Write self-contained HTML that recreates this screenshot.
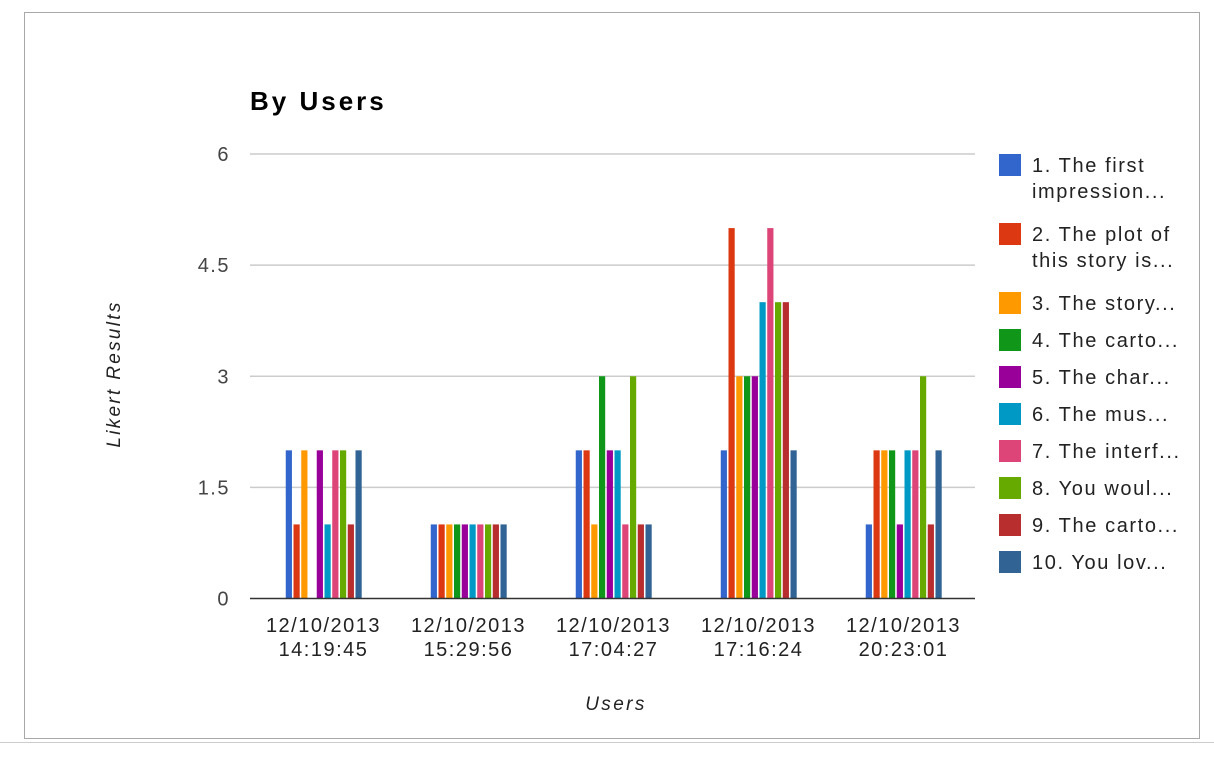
<!DOCTYPE html>
<html><head><meta charset="utf-8"><style>
body{margin:0;background:#fff;font-family:"Liberation Sans",Arial,sans-serif;}
svg text{font-family:"Liberation Sans",Arial,sans-serif;}
</style></head><body>
<svg id="chart" width="1214" height="754" xmlns="http://www.w3.org/2000/svg">
<rect x="0" y="0" width="1214" height="754" fill="#fff"/>
<rect x="24.5" y="12.5" width="1175" height="726" fill="#fff" stroke="#a8a8a8"/>
<line x1="0" y1="742.5" x2="1214" y2="742.5" stroke="#ccc"/>
<text x="250" y="110" font-size="26" font-weight="bold" letter-spacing="3" fill="#000">By Users</text>
<text transform="translate(120,374) rotate(-90)" text-anchor="middle" font-size="19" letter-spacing="2.3" font-style="italic" fill="#222">Likert Results</text>
<text x="616" y="710" text-anchor="middle" font-size="19" letter-spacing="2.4" font-style="italic" fill="#222">Users</text>
<g id="grid"></g><g id="bars"></g><g id="xlabels"></g><g id="legend"></g>
</svg>
<script>
const categories=[["12/10/2013","14:19:45"],["12/10/2013","15:29:56"],["12/10/2013","17:04:27"],["12/10/2013","17:16:24"],["12/10/2013","20:23:01"]];
const seriesNames=["1. The first|impression...","2. The plot of|this story is...","3. The story...","4. The carto...","5. The char...","6. The mus...","7. The interf...","8. You woul...","9. The carto...","10. You lov..."];
const colors=["#3366cc","#dc3912","#ff9900","#109618","#990099","#0099c6","#dd4477","#66aa00","#b82e2e","#316395"];
const s1=[2,1,2,2,1];
const s2=[1,1,2,5,2];
const s3=[2,1,1,3,2];
const s4=[0,1,3,3,2];
const s5=[2,1,2,3,1];
const s6=[1,1,2,4,2];
const s7=[2,1,1,5,2];
const s8=[2,1,3,4,3];
const s9=[1,1,1,4,1];
const s10=[2,1,1,2,2];
const series=[s1,s2,s3,s4,s5,s6,s7,s8,s9,s10];
const yTicks=[0,1.5,3,4.5,6];
const tickLabels=["0","1.5","3","4.5","6"];
const NS="http://www.w3.org/2000/svg";
const X0=250,X1=975,Y0=598.5,Y6=154;
const y=v=>Y0-(v/6)*(Y0-Y6);
const gw=(X1-X0)/categories.length;
const cx=i=>X0+gw*(i+0.5);
function mk(t,a,p){const e=document.createElementNS(NS,t);for(const k in a)e.setAttribute(k,a[k]);p.appendChild(e);return e;}
const grid=document.getElementById('grid');
yTicks.forEach((t,i)=>{
 if(t>0){const l=mk('line',{x1:X0,x2:X1,y1:y(t),y2:y(t),stroke:'#ccc','stroke-width':1.5},grid);
 
 }
 const tx=mk('text',{x:230,y:y(t)+7,'text-anchor':'end','font-size':20,'letter-spacing':1.5,fill:'#444'},grid);tx.textContent=tickLabels[i];
 
 
});
const bars=document.getElementById('bars');
const bw=6.2,step=7.75;
categories.forEach((c,i)=>{
 series.forEach((s,j)=>{
  const v=s[i];if(v<=0)return;
  const x=cx(i)-step*5+j*step+2;
  const r=mk('rect',{x:x,y:y(v),width:bw,height:Y0-y(v),fill:colors[j]},bars);
  
  
 });
 const t=mk('text',{x:cx(i)+1,y:632,'text-anchor':'middle','font-size':20,'letter-spacing':1.5,fill:'#222'},document.getElementById('xlabels'));
 
 
 mk('tspan',{x:cx(i)+1,dy:0},t).textContent=c[0];
 mk('tspan',{x:cx(i)+1,dy:24},t).textContent=c[1];
});
const ax=mk('line',{x1:X0,x2:X1,y1:Y0,y2:Y0,stroke:'#333','stroke-width':1.5},bars);


const lg=document.getElementById('legend');
let ly=152;
seriesNames.forEach((n,j)=>{
 const g=mk('g',{},lg);
 
 
 mk('rect',{x:999,y:ly+2,width:22,height:22,fill:colors[j]},g);
 const parts=n.split('|');
 parts.forEach((p,k)=>{const t=mk('text',{x:1032,y:ly+20+k*26,'font-size':20,'letter-spacing':1.6,fill:'#222'},g);t.textContent=p;});
 ly+=parts.length>1?69:37;
});
</script>
</body></html>
